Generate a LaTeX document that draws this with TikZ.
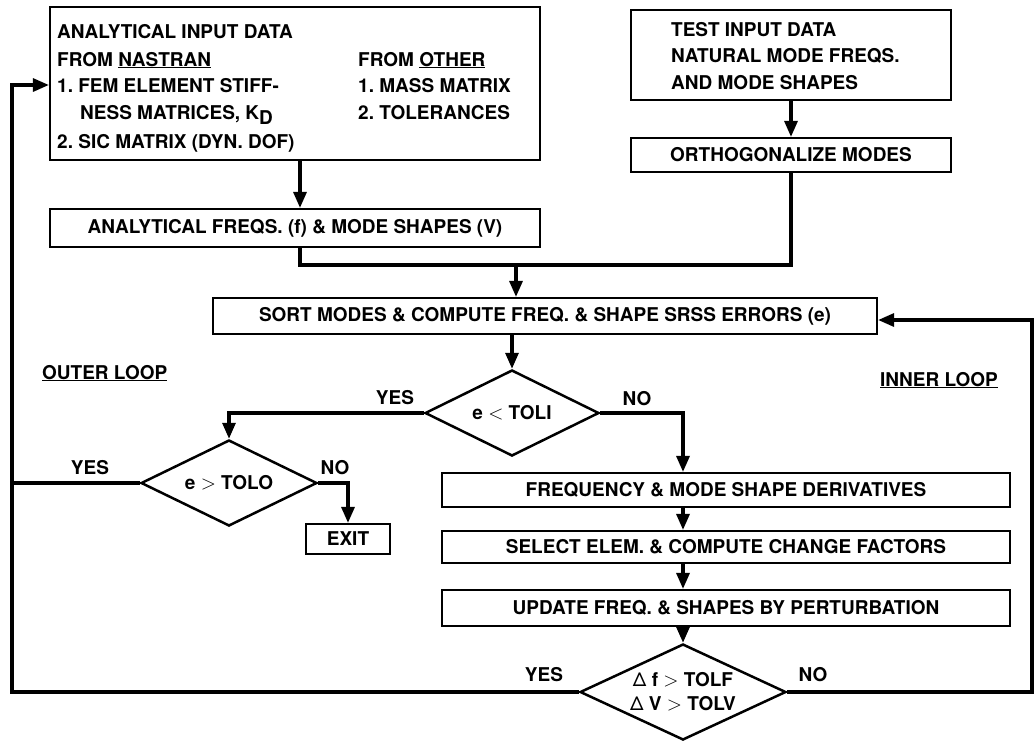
\documentclass[tikz,border=0pt]{standalone}
\usepackage{fontspec}
\setmainfont{TeX Gyre Heros}
\usetikzlibrary{arrows.meta,shapes.geometric,calc}
\newcommand{\lessmark}{{\mdseries\scalebox{1.15}{$<$}}}
\newcommand{\moremark}{{\mdseries\scalebox{1.15}{$>$}}}
\newcommand{\deltamark}{{\mdseries Δ}}
\begin{document}
\begin{tikzpicture}[x=1pt,y=-1pt,
  txt/.style={font=\fontsize{19}{27}\selectfont\bfseries, inner sep=0pt},
  box/.style={draw, line width=2.2pt, txt},
  cond/.style={draw, diamond, line width=2.5pt, inner sep=0pt},
  flow/.style={line width=3.2pt},
  arr/.style={flow, -{Triangle[length=16pt,width=13pt]}},
]
\useasboundingbox (0,0) rectangle (1034,740);

% analytical input block
\node[box, minimum width=490, minimum height=153] (boxA) at (295,83.5) {};
\node[txt, anchor=base west] (a1) at (57,38) {ANALYTICAL INPUT DATA};
\node[txt, anchor=base west] (a2) at (57,66) {FROM \underline{NASTRAN}};
\node[txt, anchor=base west] (a3) at (57,92) {1.\ FEM ELEMENT STIFF-};
\node[txt, anchor=base west] (a4) at (80,119) {NESS MATRICES, K\raisebox{-5pt}{D}};
\node[txt, anchor=base west] (a5) at (57,148) {2.\ SIC MATRIX (DYN.\ DOF)};
\node[txt, anchor=base west] (b1) at (358,66) {FROM \underline{OTHER}};
\node[txt, anchor=base west] (b2) at (358,92) {1.\ MASS MATRIX};
\node[txt, anchor=base west] (b3) at (358,119) {2.\ TOLERANCES};

% test input block
\node[box, minimum width=320, minimum height=90] (test) at (791,55) {};
\node[txt, anchor=base west] (t1) at (671,36) {TEST INPUT DATA};
\node[txt, anchor=base west] (t2) at (671,62) {NATURAL MODE FREQS.};
\node[txt, anchor=base west] (t3) at (671,89) {AND MODE SHAPES};

\node[box, minimum width=320, minimum height=34] (ortho) at (791,155) {ORTHOGONALIZE MODES};
\node[box, minimum width=490, minimum height=38] (freqs) at (295,228) {ANALYTICAL FREQS.\ (f) \& MODE SHAPES (V)};
\node[box, minimum width=664, minimum height=36] (sort) at (545,316) {SORT MODES \& COMPUTE FREQ.\ \& SHAPE SRSS ERRORS (e)};

% decisions
\node[cond, minimum width=174, minimum height=86,
  label={[txt]center:e \lessmark\ TOLI}] (d1) at (512,413) {};
\node[cond, minimum width=176, minimum height=86,
  label={[txt]center:e \moremark\ TOLO}] (d2) at (229,483) {};
\node[cond, minimum width=206, minimum height=96,
  label={[txt, align=center, font=\fontsize{19}{24}\selectfont\bfseries]center:\deltamark\ f \moremark\ TOLF\\\deltamark\ V \moremark\ TOLV}] (d3) at (683,692) {};

\node[box, minimum width=84, minimum height=30] (exit) at (348,539) {EXIT};

% inner loop steps
\node[box, minimum width=568, minimum height=34] (freq) at (726,490) {FREQUENCY \& MODE SHAPE DERIVATIVES};
\node[box, minimum width=568, minimum height=32] (select) at (726,547) {SELECT ELEM.\ \& COMPUTE CHANGE FACTORS};
\node[box, minimum width=568, minimum height=36] (update) at (726,608) {UPDATE FREQ.\ \& SHAPES BY PERTURBATION};

% branch labels
\node[txt] (y1) at (395,398) {YES};
\node[txt] (n1) at (637,399) {NO};
\node[txt] (y2) at (90,468) {YES};
\node[txt] (n2) at (335,468) {NO};
\node[txt] (y3) at (544,675) {YES};
\node[txt] (n3) at (813,675) {NO};
\node[txt, anchor=base west] (outer) at (42,379) {\underline{OUTER LOOP}};
\node[txt, anchor=base west] (inner) at (880,386) {\underline{INNER LOOP}};

% routing points
\coordinate (jl) at (12,85);
\coordinate (jr) at (1032,320);
\coordinate (xa) at (300,0);
\coordinate (xc) at (683,0);
\coordinate (jm) at (516,265);

% connectors
\draw[arr] (boxA.south -| xa) -- (freqs.north -| xa);
\draw[arr] (test.south) -- (ortho.north);
\draw[flow] (freqs.south -| xa) |- (jm);
\draw[flow] (ortho.south) |- (jm);
\draw[arr] (jm) -- (jm |- sort.north);
\draw[arr] (sort.south -| d1) -- (d1.north);
\draw[arr] (d1.west) -| (d2.north);
\draw[arr] (d1.east) -| (freq.north -| xc);
\draw[arr] (d2.east) -| (exit.north);
\draw[flow] (d2.west) -- (d2.west -| jl);
\draw[arr] (freq.south -| xc) -- (select.north -| xc);
\draw[arr] (select.south -| xc) -- (update.north -| xc);
\draw[arr] (update.south -| xc) -- (d3.north);
\draw[arr] (d3.west) -| (jl) -- (jl -| boxA.west);
\draw[arr] (d3.east) -| (jr) -- (jr -| sort.east);
\end{tikzpicture}
\end{document}
